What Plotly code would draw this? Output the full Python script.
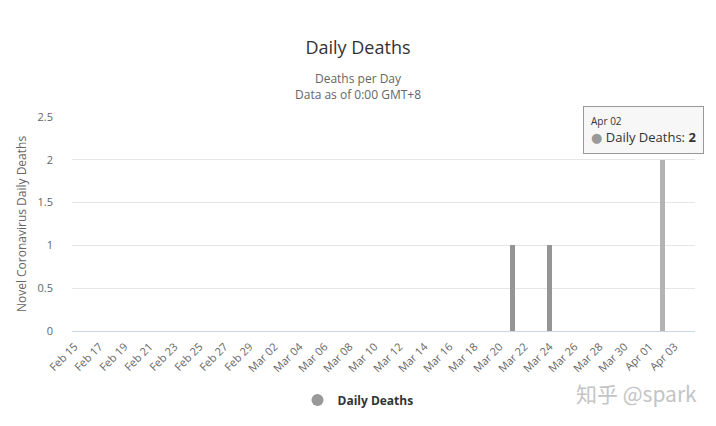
import datetime as dt
import plotly.graph_objects as go

# ---- data ----
start = dt.date(2020, 2, 15)
dates = [(start + dt.timedelta(days=i)).strftime("%b %d") for i in range(49)]  # Feb 15 .. Apr 03
deaths = [0] * 49
deaths[dates.index("Mar 21")] = 1
deaths[dates.index("Mar 24")] = 1
deaths[dates.index("Apr 02")] = 2
tick_labels = dates[::2]
hover_date = "Apr 02"

bar_colors = ["#b3b3b3" if d == hover_date else "#959595" for d in dates]

FONT = "Open Sans, DejaVu Sans, sans-serif"
H = 426
PT, PB = 117, 331  # plot top / bottom in px
PL, PR = 72, 695


def py(px_y):
    return (PB - px_y) / (PB - PT)


def px(px_x):
    return (px_x - PL) / (PR - PL)


fig = go.Figure()
fig.add_trace(go.Bar(x=dates, y=deaths, marker=dict(color=bar_colors, line=dict(width=0)),
                     width=0.4, showlegend=False, name="Daily Deaths"))
# legend entry (circle symbol like the original)
fig.add_trace(go.Scatter(x=[None], y=[None], mode="markers", name="<b>Daily Deaths</b>",
                         marker=dict(symbol="circle", size=11, color="#999999")))

fig.update_layout(
    width=716, height=H,
    margin=dict(l=PL, r=716 - PR, t=PT, b=H - PB),
    paper_bgcolor="white", plot_bgcolor="white",
    font=dict(family=FONT, color="#666666", size=11),
    title=dict(text="Daily Deaths", x=0.5, xanchor="center", xref="container",
               y=1 - 48 / H, yanchor="middle", yref="container",
               font=dict(size=18, color="#333333", family=FONT)),
    showlegend=True,
    legend=dict(orientation="h", xref="container", yref="container", x=0.5, xanchor="center",
                y=1 - 400 / H, yanchor="middle", font=dict(size=12, color="#333333", family=FONT),
                itemsizing="constant"),
    bargap=0,
)
fig.update_xaxes(type="category", range=[-0.2, 49.64], tickmode="array", tickvals=tick_labels,
                 ticktext=tick_labels, tickangle=-45, showgrid=False, showline=True,
                 linecolor="#ccd6eb", linewidth=1, ticks="", tickfont=dict(size=11, color="#666666"),
                 ticklabelstandoff=4, automargin=False, fixedrange=True)
fig.update_yaxes(range=[0, 2.5], dtick=0.5, showgrid=True, gridcolor="#e6e6e6", zeroline=False,
                 showline=False, tickfont=dict(size=11, color="#666666"), ticklabelstandoff=18,
                 automargin=False,
                 title=dict(text="Novel Coronavirus Daily Deaths", font=dict(size=12, color="#666666"), standoff=8))

# subtitle
fig.add_annotation(x=px(358), y=py(86), xref="paper", yref="paper", showarrow=False,
                   text="Deaths per Day<br>Data as of 0:00 GMT+8",
                   font=dict(size=12, color="#666666", family=FONT),
                   xanchor="center", yanchor="middle")

# tooltip
fig.add_annotation(x=hover_date, y=2, xref="x", yref="y", showarrow=False,
                   text="<span style='font-size:10px;color:#333333'>Apr 02</span><br>"
                        "<span style='color:#999999'>●</span> <span style='color:#333333'>Daily Deaths: <b>2</b></span>",
                   align="left", xanchor="center", yanchor="bottom", xshift=-19, yshift=6,
                   bgcolor="rgba(247,247,247,0.95)", bordercolor="#999999", borderwidth=1, borderpad=7,
                   font=dict(size=13, color="#333333", family=FONT))
# watermark
fig.add_annotation(x=px(636), y=py(393), xref="paper", yref="paper", showarrow=False,
                   text="知乎 @spark", font=dict(size=21, color="#c4c4c4", family="Noto Sans CJK SC"),
                   xanchor="center", yanchor="middle")

fig.write_html("out.html")
